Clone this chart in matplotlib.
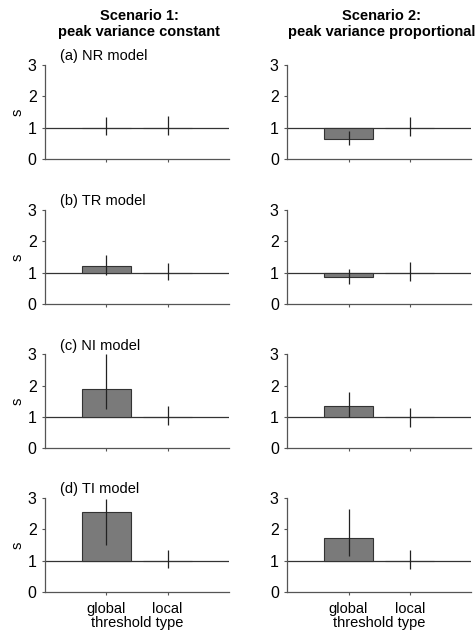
import numpy as np
import matplotlib.pyplot as plt

plt.rcParams['font.family'] = ['Liberation Sans', 'DejaVu Sans']

# threshold types on the x axis
thresholds = ['global', 'local']
models = ['(a) NR model', '(b) TR model', '(c) NI model', '(d) TI model']
scenarios = ['Scenario 1:\npeak variance constant',
             'Scenario 2:\npeak variance proportional']

# s values, rows = models, [global, local]
s_const = [[1.0, 1.0], [1.20, 1.0], [1.88, 1.0], [2.56, 1.0]]
s_prop = [[0.64, 1.0], [0.85, 1.0], [1.35, 1.0], [1.72, 1.0]]

# error bar ends (low, high) for [global, local]
err_const = [[(0.77, 1.35), (0.77, 1.38)],
             [(0.91, 1.56), (0.75, 1.31)],
             [(1.25, 3.00), (0.75, 1.36)],
             [(1.51, 2.98), (0.76, 1.34)]]
err_prop = [[(0.43, 0.90), (0.73, 1.35)],
            [(0.65, 1.10), (0.72, 1.35)],
            [(0.99, 1.80), (0.68, 1.29)],
            [(1.15, 2.65), (0.74, 1.34)]]

fig = plt.figure(figsize=(4.77, 6.33), dpi=100)

col_left = [0.094, 0.602]
ax_w = 0.386
row_bottom = [0.749, 0.520, 0.292, 0.065]
ax_h = 0.148

x = np.arange(1, len(thresholds) + 1)

for c, (vals, errs) in enumerate([(s_const, err_const), (s_prop, err_prop)]):
    for r in range(len(models)):
        ax = fig.add_axes([col_left[c], row_bottom[r], ax_w, ax_h])
        v = np.array(vals[r])
        ax.bar(x, v - 1, bottom=1, width=0.8, color='#7a7a7a',
               edgecolor='#333333', linewidth=0.8, zorder=2)
        ax.axhline(1, color='#333333', linewidth=0.9, zorder=1)
        for xi, (lo, hi) in zip(x, errs[r]):
            ax.vlines(xi, lo, hi, color='#222222', linewidth=0.9, zorder=3)
        ax.set_xlim(0, 3)
        ax.set_ylim(0, 3)
        ax.set_yticks([0, 1, 2, 3])
        ax.set_xticks(x)
        for sp in ['top', 'right']:
            ax.spines[sp].set_visible(False)
        for sp in ['left', 'bottom']:
            ax.spines[sp].set_color('#555555')
            ax.spines[sp].set_linewidth(0.9)
        ax.tick_params(axis='y', length=2, labelsize=11.5, pad=4, color='#555555')
        ax.tick_params(axis='x', length=2, color='#555555', pad=5)
        if r == len(models) - 1:
            ax.set_xticklabels(thresholds, fontsize=10.5)
            ax.set_xlabel('threshold type', fontsize=10.5, labelpad=0)
        else:
            ax.set_xticklabels([])
        if c == 0:
            ax.set_ylabel('s', fontsize=10.5, labelpad=2)
            ax.text(0.08, 1.02, models[r], transform=ax.transAxes,
                    fontsize=10.5, ha='left', va='bottom')

for c in range(2):
    fig.text(col_left[c] + ax_w / 2 + 0.005, 0.985, scenarios[c],
             fontsize=10.5, fontweight='bold', ha='center', va='top',
             linespacing=1.1)

fig.savefig('out.png', dpi=100)
